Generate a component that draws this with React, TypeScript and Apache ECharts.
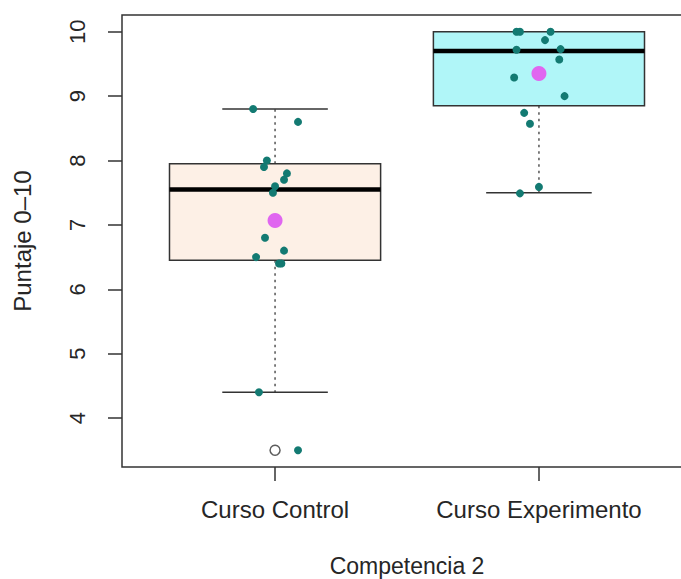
import React, { useEffect, useRef } from "react";
import * as echarts from "echarts";

// ---- data ----
const categories = ["Curso Control", "Curso Experimento"];
const yTicks = [4, 5, 6, 7, 8, 9, 10];
// [min whisker, Q1, median, Q3, max whisker]
const controlBox = [4.4, 6.45, 7.55, 7.95, 8.8];
const experimentBox = [7.5, 8.85, 9.7, 10.0, 10.0];
const groupMeans = [7.07, 9.35];
const outlierGroups = [1];
const outlierValues = [3.5];

const controlScores = [8.8, 8.6, 8.0, 7.9, 7.8, 7.7, 7.6, 7.5, 6.8, 6.6, 6.5, 6.4, 6.4, 4.4, 3.5];
const controlJitter = [-0.083, 0.087, -0.031, -0.042, 0.045, 0.034, 0.0, -0.008, -0.038, 0.034, -0.072, 0.024, 0.015, -0.061, 0.087];
const experimentScores = [10.0, 10.0, 10.0, 9.87, 9.72, 9.73, 9.57, 9.29, 9.0, 8.74, 8.57, 7.59, 7.49];
const experimentJitter = [-0.085, -0.072, 0.044, 0.023, -0.085, 0.082, 0.077, -0.094, 0.097, -0.056, -0.034, 0.0, -0.072];

const FONT = "'Liberation Sans', Arial, Helvetica, sans-serif";
const TEXT = "#262626";
const FRAME = "#333333";
const boxFills = ["#FDF0E6", "#B0F6F8"];

export default function App() {
  const ref = useRef<HTMLDivElement>(null);

  useEffect(() => {
    if (!ref.current) return;
    const chart = echarts.init(ref.current, null, { renderer: "svg" });

    const boxData = [controlBox, experimentBox].map((s, i) => [i + 1, ...s]);
    const pointData = [
      ...controlScores.map((v, i) => [1 + controlJitter[i], v]),
      ...experimentScores.map((v, i) => [2 + experimentJitter[i], v]),
    ];
    const meanData = groupMeans.map((m, i) => [i + 1, m]);
    const outlierData = outlierValues.map((v, i) => [outlierGroups[i], v]);

    const renderItem = (params: any, api: any) => {
      const x = api.value(0);
      const mn = api.coord([x, api.value(1)]);
      const q1 = api.coord([x, api.value(2)]);
      const md = api.coord([x, api.value(3)]);
      const q3 = api.coord([x, api.value(4)]);
      const mx = api.coord([x, api.value(5)]);
      const halfBox = api.size([0.4, 0])[0];
      const halfCap = api.size([0.2, 0])[0];
      const cx = md[0];
      const fill = boxFills[params.dataIndex];
      const dashStyle = { stroke: "#555", lineWidth: 1.5, lineDash: [2.5, 4] };
      const solid = { stroke: FRAME, lineWidth: 1.5 };
      return {
        type: "group",
        children: [
          { type: "line", shape: { x1: cx, y1: q3[1], x2: cx, y2: mx[1] }, style: dashStyle },
          { type: "line", shape: { x1: cx, y1: q1[1], x2: cx, y2: mn[1] }, style: dashStyle },
          { type: "line", shape: { x1: cx - halfCap, y1: mx[1], x2: cx + halfCap, y2: mx[1] }, style: solid },
          { type: "line", shape: { x1: cx - halfCap, y1: mn[1], x2: cx + halfCap, y2: mn[1] }, style: solid },
          {
            type: "rect",
            shape: { x: cx - halfBox, y: q3[1], width: halfBox * 2, height: q1[1] - q3[1] },
            style: { fill, stroke: FRAME, lineWidth: 1.5 },
          },
          {
            type: "line",
            shape: { x1: cx - halfBox, y1: md[1], x2: cx + halfBox, y2: md[1] },
            style: { stroke: "#000", lineWidth: 4.5 },
          },
        ],
      };
    };

    chart.setOption({
      animation: false,
      backgroundColor: "#ffffff",
      grid: {
        left: 122,
        top: 15,
        width: 570,
        height: 452,
        show: true,
        borderColor: FRAME,
        borderWidth: 1.5,
        backgroundColor: "transparent",
      },
      xAxis: {
        type: "value",
        min: 0.42,
        max: 2.58,
        splitLine: { show: false },
        axisLine: { show: false },
        axisTick: {
          show: true,
          inside: false,
          length: 14,
          customValues: [1, 2],
          lineStyle: { color: FRAME, width: 1.5 },
        },
        axisLabel: {
          customValues: [1, 2],
          formatter: (v: number) => categories[Math.round(v) - 1] ?? "",
          margin: 30,
          fontSize: 24,
          fontFamily: FONT,
          color: TEXT,
        },
      },
      yAxis: {
        type: "value",
        min: 3.24,
        max: 10.26,
        splitLine: { show: false },
        axisLine: { show: false },
        axisTick: {
          show: true,
          inside: false,
          length: 14,
          customValues: yTicks,
          lineStyle: { color: FRAME, width: 1.5 },
        },
        axisLabel: {
          customValues: yTicks,
          rotate: 90,
          margin: 34,
          fontSize: 22,
          fontFamily: FONT,
          color: TEXT,
        },
      },
      graphic: [
        {
          type: "text",
          x: 407,
          y: 566,
          style: {
            text: "Competencia 2",
            fontSize: 23,
            fontFamily: FONT,
            fill: TEXT,
            align: "center",
            verticalAlign: "middle",
          },
        },
        {
          type: "text",
          x: 22,
          y: 241,
          rotation: Math.PI / 2,
          style: {
            text: "Puntaje 0–10",
            fontSize: 24,
            fontFamily: FONT,
            fill: TEXT,
            align: "center",
            verticalAlign: "middle",
          },
        },
      ],
      series: [
        {
          type: "custom",
          renderItem,
          data: boxData,
          encode: { x: 0, y: [1, 2, 3, 4, 5] },
          z: 2,
          silent: true,
        },
        {
          type: "scatter",
          data: outlierData,
          symbol: "circle",
          symbolSize: 10,
          itemStyle: { color: "#ffffff", borderColor: "#333", borderWidth: 1.5 },
          z: 3,
        },
        {
          type: "scatter",
          data: pointData,
          symbolSize: 8,
          itemStyle: { color: "#137A72", opacity: 1 },
          z: 4,
        },
        {
          type: "scatter",
          data: meanData,
          symbolSize: 15,
          itemStyle: { color: "#E066F0", opacity: 1 },
          z: 5,
        },
      ],
    });

    return () => chart.dispose();
  }, []);

  return (
    <div
      style={{ position: "fixed", left: 0, top: 0, width: 681, height: 579, overflow: "hidden", background: "#fff" }}
    >
      <div ref={ref} style={{ width: 720, height: 579 }} />
    </div>
  );
}
